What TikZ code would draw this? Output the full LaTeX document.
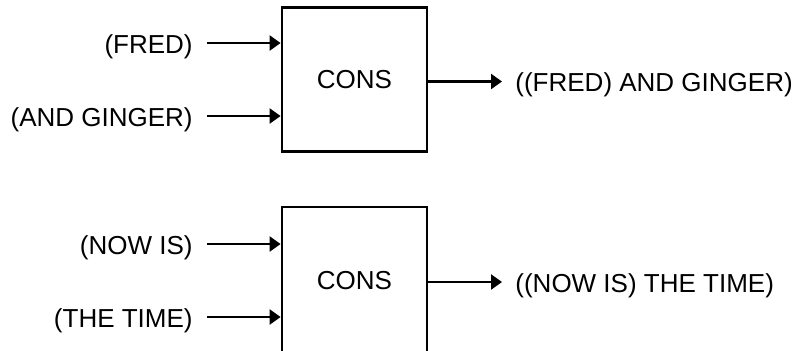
\documentclass[tikz,border=0pt]{standalone}
\usepackage{fontspec}
\setmainfont{Liberation Sans}
\usetikzlibrary{arrows.meta}
\begin{document}
\begin{tikzpicture}[x=0.5pt,y=-0.5pt,
  box/.style={draw, line width=1.4pt, minimum width=72.5pt, inner sep=0pt, font=\fontsize{13}{15}\selectfont},
  arr/.style={line width=1.2pt, -{Triangle[length=5.5pt,width=7.5pt]}},
  lab/.style={inner sep=0pt, font=\fontsize{13}{15}\selectfont}]
\useasboundingbox (0,0) rectangle (801,350);
\clip (0,0) rectangle (801,350);
% boxes
\node[box, minimum height=72pt] (b1) at (354.5,79.5) {CONS};
\node[box, minimum height=74pt] (b2) at (354.5,281) {CONS};
% top inputs
\coordinate (i1) at (207,43);
\coordinate (i2) at (207,116);
\node[lab, anchor=east, xshift=-7pt, yshift=-1.75pt] (l1) at (i1) {(FRED)};
\node[lab, anchor=east, xshift=-7pt, yshift=-1.75pt] (l2) at (i2) {(AND GINGER)};
\draw[arr] (i1) -- (i1 -| b1.west);
\draw[arr] (i2) -- (i2 -| b1.west);
% top output
\coordinate (o1) at (502,81.5);
\draw[arr] (o1 -| b1.east) -- (o1);
\node[lab, anchor=west, xshift=6.5pt, yshift=-1.75pt] (r1) at (o1) {((FRED) AND GINGER)};
% bottom inputs
\coordinate (i3) at (207,244);
\coordinate (i4) at (207,317);
\node[lab, anchor=east, xshift=-7pt, yshift=-1.75pt] (l3) at (i3) {(NOW IS)};
\node[lab, anchor=east, xshift=-7pt, yshift=-1.75pt] (l4) at (i4) {(THE TIME)};
\draw[arr] (i3) -- (i3 -| b2.west);
\draw[arr] (i4) -- (i4 -| b2.west);
% bottom output
\coordinate (o2) at (502,282);
\draw[arr] (o2 -| b2.east) -- (o2);
\node[lab, anchor=west, xshift=6.5pt, yshift=-1.75pt] (r2) at (o2) {((NOW IS) THE TIME)};
\end{tikzpicture}
\end{document}
